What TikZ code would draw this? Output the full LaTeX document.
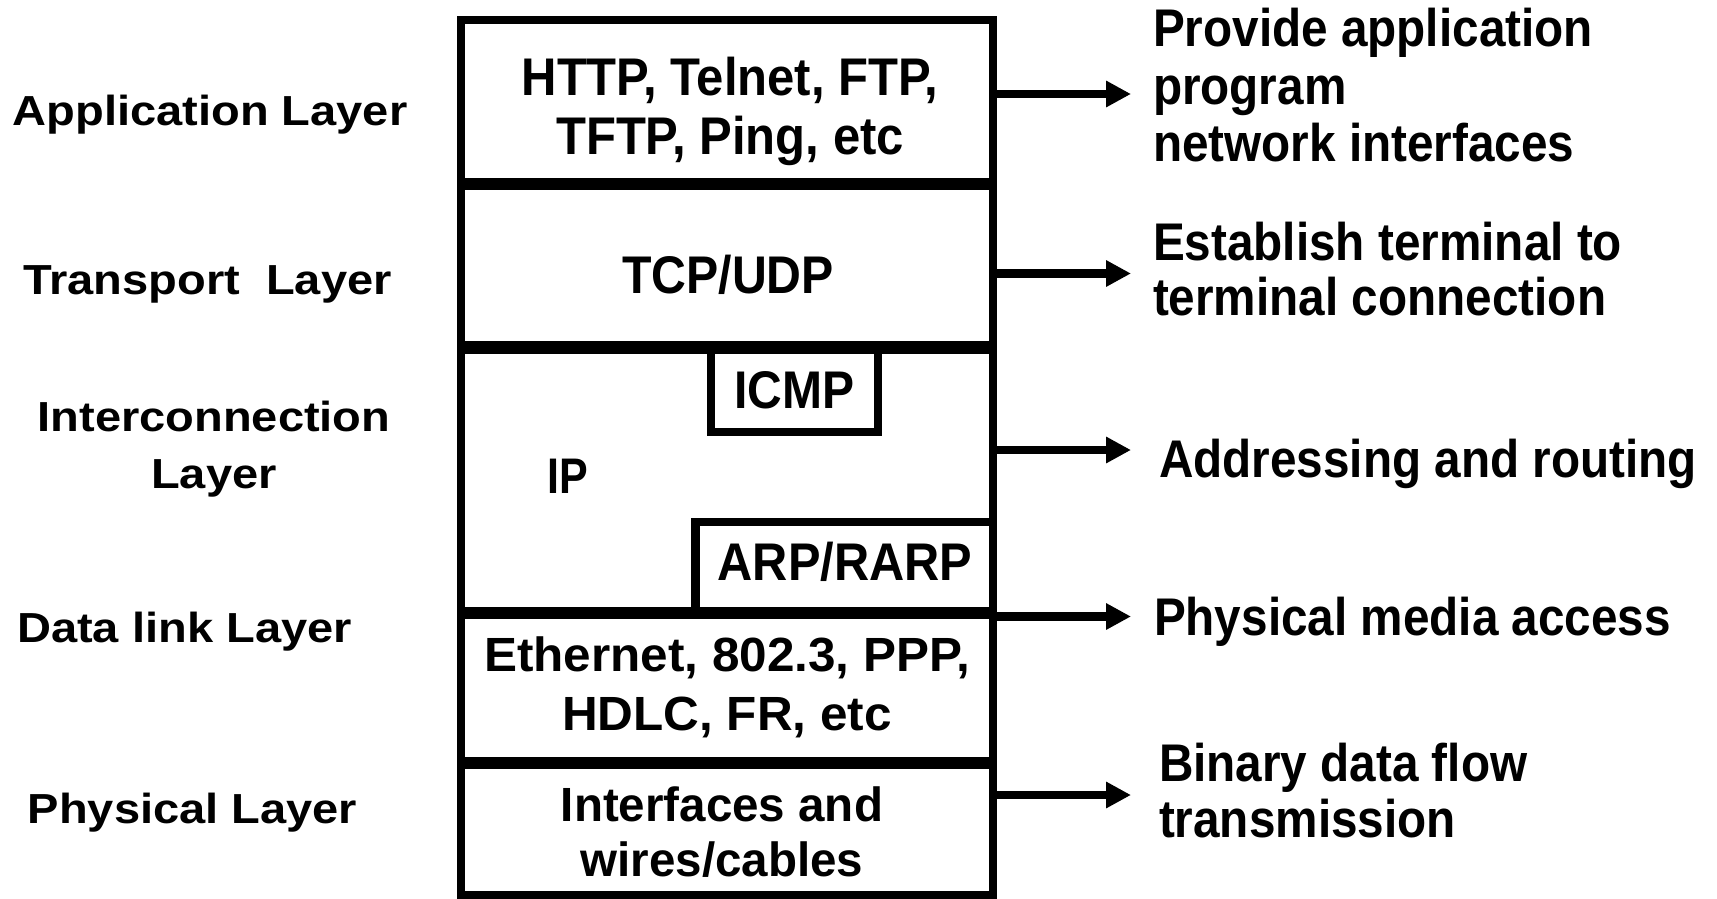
\documentclass[tikz,border=0pt]{standalone}
\usepackage{fontspec}
\usetikzlibrary{arrows.meta}
\newcommand\FB[3]{\fontspec[FakeStretch=#3]{Liberation Sans Bold}\fontsize{#1}{#2}\selectfont}
\begin{document}
\begin{tikzpicture}[x=1pt,y=-1pt,
  box/.style={draw, line width=8.5pt, minimum width=532pt, inner sep=0pt, outer sep=0pt},
  sub/.style={draw, line width=8.5pt, inner sep=0pt, outer sep=0pt},
  arr/.style={line width=8.5pt, -{Triangle[length=25pt,width=25pt]}},
  txt/.style={inner sep=0pt, outer sep=0pt, align=center},
  lab/.style={txt, font=\FB{42}{57}{1.12}},
  rtxt/.style={inner sep=0pt, outer sep=0pt, align=left, font=\FB{53}{57.5}{0.9}}
]
\fill[white] (0,0) rectangle (1717,899);
\useasboundingbox (0,0) rectangle (1717,899);

% layer boxes
\node[box, minimum height=162.3pt] (app) at (727,101.15) {};
\node[box, minimum height=160.4pt] (tr) at (727,265.5) {};
\node[box, minimum height=261.7pt] (ip) at (727,480.15) {};
\node[box, minimum height=147.4pt] (dl) at (727,688) {};
\node[box, minimum height=130.3pt] (ph) at (727,829.85) {};
\node[sub, minimum width=167pt, minimum height=82.7pt, font=\FB{53}{55}{0.906}] (icmp) at (794.5,390.65) {ICMP};
\node[sub, minimum width=297.5pt, minimum height=89pt] (arp) at (844.25,566.5) {};

% texts in boxes
\node[txt, font=\FB{53}{59}{0.925}] (appt) at (730,111.1) {HTTP, Telnet, FTP,\\TFTP, Ping, etc};
\node[txt, anchor=base, font=\FB{53}{55}{0.91}] (trt) at (728,293) {TCP/UDP};
\node[txt, anchor=base, font=\FB{50}{55}{0.86}] (ipt) at (568,493) {IP};
\node[txt, anchor=base, font=\FB{53}{55}{0.92}] (arpt) at (845,580) {ARP/RARP};
\node[txt, font=\FB{48}{58.3}{1.03}] (dlt) at (727,687.2) {Ethernet, 802.3, PPP,\\HDLC, FR, etc};
\node[txt, font=\FB{48}{55}{0.99}] (pht) at (722,832) {Interfaces and\\wires/cables};

% left labels
\node[lab, anchor=base] (l1) at (210,125.5) {Application Layer};
\node[lab, anchor=base] (l2) at (207.5,294) {Transport~~Layer};
\node[lab] (l3) at (214,448.9) {Interconnection\\Layer};
\node[lab, anchor=base] (l4) at (184.5,642) {Data link Layer};
\node[lab, anchor=base] (l5) at (192.5,823) {Physical Layer};

% right descriptions
\node[rtxt, anchor=west] (d1) at (1153,85.2) {Provide application\\program\\network interfaces};
\node[rtxt, anchor=west, font=\FB{53}{55}{0.9}] (d2) at (1153,268.6) {Establish terminal to\\terminal connection};
\node[rtxt, anchor=base west] (d3) at (1159,477) {Addressing and routing};
\node[rtxt, anchor=base west] (d4) at (1154,635) {Physical media access};
\node[rtxt, anchor=west, font=\FB{53}{56}{0.9}] (d5) at (1159,791) {Binary data flow\\transmission};

% arrows
\coordinate (t1) at (1131,94);
\coordinate (t2) at (1131,273.5);
\coordinate (t3) at (1131,450);
\coordinate (t4) at (1131,616.5);
\coordinate (t5) at (1131,795);
\draw[arr] (app.east |- t1) -- (t1);
\draw[arr] (tr.east |- t2) -- (t2);
\draw[arr] (ip.east |- t3) -- (t3);
\draw[arr] (dl.east |- t4) -- (t4);
\draw[arr] (ph.east |- t5) -- (t5);
\end{tikzpicture}
\end{document}
